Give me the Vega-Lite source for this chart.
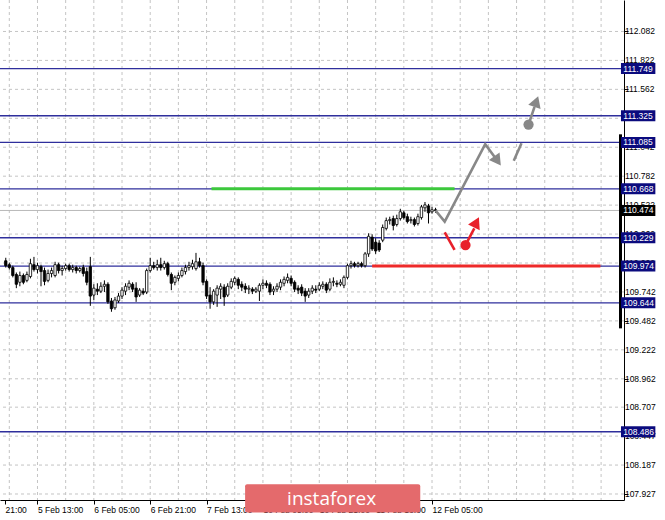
{
  "$schema": "https://vega.github.io/schema/vega-lite/v6.json",
  "width": 624,
  "height": 500,
  "autosize": "none",
  "padding": {"left": 0, "top": 0, "right": 41, "bottom": 20},
  "background": "#ffffff",
  "config": {
    "view": {"stroke": null},
    "font": "Liberation Sans",
    "axis": {"labelFont": "Liberation Sans", "labelFontSize": 8.5, "labelColor": "#000000", "tickColor": "#000000", "domainColor": "#000000", "grid": false, "titleOpacity": 0, "labelOverlap": false}
  },
  "resolve": {"scale": {"color": "independent"}},
  "datasets": {
    "candles": [
      {"t":-9,"o":110.022,"h":110.049,"l":109.961,"c":109.978},
      {"t":-8,"o":109.987,"h":110.005,"l":109.943,"c":109.961},
      {"t":-7,"o":109.961,"h":109.978,"l":109.873,"c":109.890},
      {"t":-6,"o":109.899,"h":109.917,"l":109.776,"c":109.811},
      {"t":-5,"o":109.829,"h":109.925,"l":109.793,"c":109.890},
      {"t":-4,"o":109.890,"h":109.908,"l":109.811,"c":109.829},
      {"t":-3,"o":109.846,"h":109.925,"l":109.829,"c":109.899},
      {"t":-2,"o":109.881,"h":110.040,"l":109.864,"c":109.996},
      {"t":-1,"o":109.987,"h":110.057,"l":109.925,"c":109.943},
      {"t":0,"o":109.943,"h":110.005,"l":109.908,"c":109.978},
      {"t":1,"o":109.969,"h":109.987,"l":109.793,"c":109.925},
      {"t":2,"o":109.934,"h":109.961,"l":109.802,"c":109.837},
      {"t":3,"o":109.846,"h":109.943,"l":109.829,"c":109.908},
      {"t":4,"o":109.908,"h":109.961,"l":109.873,"c":109.934},
      {"t":5,"o":109.890,"h":110.013,"l":109.873,"c":109.987},
      {"t":6,"o":109.987,"h":110.005,"l":109.908,"c":109.934},
      {"t":7,"o":109.934,"h":109.978,"l":109.890,"c":109.952},
      {"t":8,"o":109.952,"h":109.996,"l":109.934,"c":109.978},
      {"t":9,"o":109.978,"h":109.996,"l":109.925,"c":109.943},
      {"t":10,"o":109.943,"h":109.987,"l":109.917,"c":109.961},
      {"t":11,"o":109.961,"h":109.978,"l":109.908,"c":109.934},
      {"t":12,"o":109.934,"h":109.969,"l":109.917,"c":109.952},
      {"t":13,"o":109.961,"h":109.987,"l":109.881,"c":109.908},
      {"t":14,"o":109.925,"h":109.961,"l":109.802,"c":109.829},
      {"t":15,"o":109.969,"h":110.057,"l":109.617,"c":109.705},
      {"t":16,"o":109.714,"h":109.811,"l":109.670,"c":109.776},
      {"t":17,"o":109.767,"h":109.820,"l":109.714,"c":109.749},
      {"t":18,"o":109.749,"h":109.829,"l":109.732,"c":109.793},
      {"t":19,"o":109.793,"h":109.846,"l":109.741,"c":109.811},
      {"t":20,"o":109.811,"h":109.829,"l":109.635,"c":109.653},
      {"t":21,"o":109.661,"h":109.688,"l":109.564,"c":109.591},
      {"t":22,"o":109.600,"h":109.697,"l":109.582,"c":109.670},
      {"t":23,"o":109.661,"h":109.732,"l":109.644,"c":109.705},
      {"t":24,"o":109.705,"h":109.785,"l":109.679,"c":109.758},
      {"t":25,"o":109.749,"h":109.820,"l":109.714,"c":109.793},
      {"t":26,"o":109.785,"h":109.846,"l":109.758,"c":109.820},
      {"t":27,"o":109.811,"h":109.829,"l":109.741,"c":109.767},
      {"t":28,"o":109.776,"h":109.829,"l":109.653,"c":109.697},
      {"t":29,"o":109.714,"h":109.776,"l":109.697,"c":109.758},
      {"t":30,"o":109.749,"h":109.776,"l":109.714,"c":109.732},
      {"t":31,"o":109.741,"h":109.952,"l":109.723,"c":109.934},
      {"t":32,"o":109.934,"h":110.049,"l":109.917,"c":109.978},
      {"t":33,"o":109.978,"h":110.013,"l":109.943,"c":109.961},
      {"t":34,"o":109.961,"h":110.031,"l":109.934,"c":109.987},
      {"t":35,"o":109.987,"h":110.049,"l":109.934,"c":109.961},
      {"t":36,"o":109.961,"h":110.022,"l":109.943,"c":109.996},
      {"t":37,"o":109.996,"h":110.013,"l":109.881,"c":109.899},
      {"t":38,"o":109.899,"h":109.917,"l":109.758,"c":109.820},
      {"t":39,"o":109.829,"h":109.890,"l":109.802,"c":109.873},
      {"t":40,"o":109.864,"h":109.917,"l":109.837,"c":109.890},
      {"t":41,"o":109.890,"h":109.961,"l":109.873,"c":109.934},
      {"t":42,"o":109.925,"h":109.987,"l":109.899,"c":109.961},
      {"t":43,"o":109.961,"h":110.013,"l":109.934,"c":109.978},
      {"t":44,"o":109.969,"h":110.031,"l":109.943,"c":109.996},
      {"t":45,"o":109.952,"h":110.093,"l":109.934,"c":110.013},
      {"t":46,"o":110.013,"h":110.049,"l":109.961,"c":109.978},
      {"t":47,"o":109.978,"h":110.005,"l":109.802,"c":109.829},
      {"t":48,"o":109.837,"h":109.855,"l":109.679,"c":109.705},
      {"t":49,"o":109.714,"h":109.785,"l":109.591,"c":109.653},
      {"t":50,"o":109.653,"h":109.767,"l":109.626,"c":109.749},
      {"t":51,"o":109.714,"h":109.802,"l":109.608,"c":109.776},
      {"t":52,"o":109.767,"h":109.820,"l":109.679,"c":109.793},
      {"t":53,"o":109.785,"h":109.811,"l":109.617,"c":109.697},
      {"t":54,"o":109.714,"h":109.820,"l":109.697,"c":109.793},
      {"t":55,"o":109.785,"h":109.864,"l":109.767,"c":109.837},
      {"t":56,"o":109.829,"h":109.881,"l":109.802,"c":109.864},
      {"t":57,"o":109.855,"h":109.873,"l":109.767,"c":109.802},
      {"t":58,"o":109.811,"h":109.837,"l":109.749,"c":109.785},
      {"t":59,"o":109.793,"h":109.820,"l":109.732,"c":109.767},
      {"t":60,"o":109.767,"h":109.802,"l":109.723,"c":109.776},
      {"t":61,"o":109.767,"h":109.785,"l":109.723,"c":109.749},
      {"t":62,"o":109.749,"h":109.785,"l":109.732,"c":109.767},
      {"t":63,"o":109.749,"h":109.820,"l":109.661,"c":109.802},
      {"t":64,"o":109.802,"h":109.855,"l":109.767,"c":109.820},
      {"t":65,"o":109.820,"h":109.846,"l":109.776,"c":109.802},
      {"t":66,"o":109.811,"h":109.829,"l":109.714,"c":109.741},
      {"t":67,"o":109.749,"h":109.793,"l":109.714,"c":109.767},
      {"t":68,"o":109.767,"h":109.820,"l":109.741,"c":109.793},
      {"t":69,"o":109.785,"h":109.855,"l":109.758,"c":109.829},
      {"t":70,"o":109.820,"h":109.881,"l":109.793,"c":109.855},
      {"t":71,"o":109.846,"h":109.908,"l":109.820,"c":109.873},
      {"t":72,"o":109.864,"h":109.890,"l":109.793,"c":109.820},
      {"t":73,"o":109.829,"h":109.846,"l":109.741,"c":109.767},
      {"t":74,"o":109.776,"h":109.802,"l":109.723,"c":109.758},
      {"t":75,"o":109.785,"h":109.811,"l":109.705,"c":109.732},
      {"t":76,"o":109.749,"h":109.776,"l":109.653,"c":109.705},
      {"t":77,"o":109.714,"h":109.776,"l":109.688,"c":109.749},
      {"t":78,"o":109.749,"h":109.802,"l":109.723,"c":109.776},
      {"t":79,"o":109.767,"h":109.802,"l":109.732,"c":109.758},
      {"t":80,"o":109.767,"h":109.829,"l":109.749,"c":109.802},
      {"t":81,"o":109.793,"h":109.837,"l":109.767,"c":109.811},
      {"t":82,"o":109.811,"h":109.829,"l":109.732,"c":109.758},
      {"t":83,"o":109.767,"h":109.864,"l":109.749,"c":109.829},
      {"t":84,"o":109.829,"h":109.873,"l":109.793,"c":109.837},
      {"t":85,"o":109.820,"h":109.846,"l":109.785,"c":109.811},
      {"t":86,"o":109.811,"h":109.855,"l":109.793,"c":109.829},
      {"t":87,"o":109.802,"h":109.890,"l":109.776,"c":109.873},
      {"t":88,"o":109.873,"h":109.996,"l":109.855,"c":109.978},
      {"t":89,"o":109.978,"h":110.022,"l":109.952,"c":109.996},
      {"t":90,"o":109.996,"h":110.013,"l":109.961,"c":109.978},
      {"t":91,"o":109.978,"h":110.013,"l":109.961,"c":109.996},
      {"t":92,"o":109.996,"h":110.013,"l":109.961,"c":109.978},
      {"t":93,"o":109.978,"h":110.101,"l":109.961,"c":110.084},
      {"t":94,"o":110.084,"h":110.269,"l":110.057,"c":110.242},
      {"t":95,"o":110.234,"h":110.260,"l":110.110,"c":110.128},
      {"t":96,"o":110.189,"h":110.225,"l":110.084,"c":110.110},
      {"t":97,"o":110.181,"h":110.207,"l":110.101,"c":110.119},
      {"t":98,"o":110.207,"h":110.348,"l":110.189,"c":110.321},
      {"t":99,"o":110.313,"h":110.410,"l":110.295,"c":110.383},
      {"t":100,"o":110.383,"h":110.418,"l":110.348,"c":110.392},
      {"t":101,"o":110.401,"h":110.427,"l":110.295,"c":110.339},
      {"t":102,"o":110.348,"h":110.436,"l":110.330,"c":110.401},
      {"t":103,"o":110.401,"h":110.489,"l":110.383,"c":110.462},
      {"t":104,"o":110.453,"h":110.471,"l":110.392,"c":110.410},
      {"t":105,"o":110.418,"h":110.445,"l":110.357,"c":110.374},
      {"t":106,"o":110.383,"h":110.418,"l":110.357,"c":110.392},
      {"t":107,"o":110.392,"h":110.410,"l":110.330,"c":110.348},
      {"t":108,"o":110.357,"h":110.445,"l":110.339,"c":110.418},
      {"t":109,"o":110.410,"h":110.524,"l":110.392,"c":110.506},
      {"t":110,"o":110.498,"h":110.550,"l":110.462,"c":110.524},
      {"t":111,"o":110.515,"h":110.533,"l":110.357,"c":110.453},
      {"t":112,"o":110.462,"h":110.506,"l":110.445,"c":110.480},
      {"t":113,"o":110.480,"h":110.498,"l":110.453,"c":110.474}
    ],
    "vgrid": [{"t":-8},{"t":0},{"t":8},{"t":16},{"t":24},{"t":32},{"t":40},{"t":48},{"t":56},{"t":64},{"t":72},{"t":80},{"t":88},{"t":96},{"t":104},{"t":112},{"t":120},{"t":128},{"t":136},{"t":144},{"t":152},{"t":160}],
    "hgrid": [{"p":112.082},{"p":111.822},{"p":111.562},{"p":111.302},{"p":111.042},{"p":110.782},{"p":110.522},{"p":110.262},{"p":110.002},{"p":109.742},{"p":109.482},{"p":109.222},{"p":108.962},{"p":108.707},{"p":108.447},{"p":108.187},{"p":107.927}],
    "levels": [{"p":111.749},{"p":111.325},{"p":111.085},{"p":110.668},{"p":110.229},{"p":109.974},{"p":109.644},{"p":108.486}],
    "bid": [{"p":110.474}],
    "zones": [
      {"kind":"green","t1":49.4,"t2":118.4,"p":110.668},
      {"kind":"red","t1":95.0,"t2":159.8,"p":109.974}
    ],
    "paths": [
      {"seg":"a","col":"gray","i":0,"t":113.0,"p":110.474},
      {"seg":"a","col":"gray","i":1,"t":115.6,"p":110.374},
      {"seg":"a","col":"gray","i":2,"t":127.1,"p":111.070},
      {"seg":"a","col":"gray","i":3,"t":130.2,"p":110.937},
      {"seg":"b","col":"gray","i":0,"t":135.2,"p":110.920},
      {"seg":"b","col":"gray","i":1,"t":137.4,"p":111.078},
      {"seg":"c","col":"gray","i":0,"t":139.4,"p":111.246},
      {"seg":"c","col":"gray","i":1,"t":141.1,"p":111.404},
      {"seg":"d","col":"red","i":0,"t":115.6,"p":110.277},
      {"seg":"d","col":"red","i":1,"t":118.4,"p":110.119},
      {"seg":"e","col":"red","i":0,"t":121.5,"p":110.163},
      {"seg":"e","col":"red","i":1,"t":124.0,"p":110.313}
    ],
    "dots": [
      {"col":"gray","t":139.4,"p":111.246},
      {"col":"red","t":121.5,"p":110.163}
    ],
    "heads": [
      {"col":"gray","t":130.6,"p":110.920,"dir":144.5},
      {"col":"gray","t":141.6,"p":111.452,"dir":19.5},
      {"col":"red","t":124.6,"p":110.368,"dir":26.6}
    ],
    "logo": [{"name":"instaforex"}]
  },
  "layer": [
    {
      "data": {"name": "vgrid"},
      "mark": {"type": "rule", "color": "#c4c4c4", "strokeDash": [3, 3], "strokeWidth": 1},
      "encoding": {
        "x": {"field": "t", "type": "quantitative", "scale": {"domain": [-9.22, 165.08], "nice": false, "zero": false},
          "axis": {"orient": "bottom", "values": [-9.2, 0, 16, 32, 48, 64, 80, 96, 112], "title": null, "tickSize": 4, "labelAlign": "left", "labelPadding": 1, "labelFlush": false, "labelOverlap": false, "labelBound": false, "domainWidth": 1,
            "labelExpr": "datum.value < -5 ? '21:00' : datum.value == 0 ? '5 Feb 13:00' : datum.value == 16 ? '6 Feb 05:00' : datum.value == 32 ? '6 Feb 21:00' : datum.value == 48 ? '7 Feb 13:00' : datum.value == 64 ? '10 Feb 05:00' : datum.value == 80 ? '10 Feb 21:00' : datum.value == 96 ? '11 Feb 13:00' : '12 Feb 05:00'"}}
      }
    },
    {
      "data": {"name": "hgrid"},
      "mark": {"type": "rule", "color": "#c4c4c4", "strokeDash": [3, 3], "strokeWidth": 1},
      "encoding": {
        "y": {"field": "p", "type": "quantitative", "scale": {"domain": [107.918, 112.3197], "nice": false, "zero": false},
          "axis": {"orient": "right", "values": [112.082, 111.822, 111.562, 111.302, 111.042, 110.782, 110.522, 110.262, 110.002, 109.742, 109.482, 109.222, 108.962, 108.707, 108.447, 108.187, 107.927], "labels": false, "title": null, "tickSize": 4, "domainWidth": 1}}
      }
    },
    {
      "data": {"name": "hgrid"},
      "mark": {"type": "text", "color": "#000000", "fontSize": 8.5, "font": "Liberation Sans", "align": "left", "baseline": "middle", "clip": false},
      "encoding": {
        "x": {"datum": 166.76, "type": "quantitative", "scale": {"domain": [-9.22, 165.08], "nice": false, "zero": false}},
        "y": {"field": "p", "type": "quantitative", "scale": {"domain": [107.918, 112.3197], "nice": false, "zero": false}},
        "text": {"field": "p", "type": "quantitative", "format": ".3f"}
      }
    },
    {
      "data": {"name": "bid"},
      "mark": {"type": "rule", "color": "#b8b8b8", "strokeWidth": 1},
      "encoding": {
        "y": {"field": "p", "type": "quantitative", "scale": {"domain": [107.918, 112.3197], "nice": false, "zero": false}}
      }
    },
    {
      "data": {"name": "levels"},
      "mark": {"type": "rule", "color": "#2f2f9c", "strokeWidth": 1.3},
      "encoding": {
        "y": {"field": "p", "type": "quantitative", "scale": {"domain": [107.918, 112.3197], "nice": false, "zero": false}}
      }
    },
    {
      "data": {"name": "candles"},
      "mark": {"type": "rule", "color": "#000000", "strokeWidth": 1},
      "encoding": {
        "x": {"field": "t", "type": "quantitative", "scale": {"domain": [-9.22, 165.08], "nice": false, "zero": false}},
        "y": {"field": "l", "type": "quantitative", "scale": {"domain": [107.918, 112.3197], "nice": false, "zero": false}},
        "y2": {"field": "h"}
      }
    },
    {
      "data": {"name": "candles"},
      "mark": {"type": "bar", "width": 2.4, "stroke": "#000000", "strokeWidth": 0.8},
      "encoding": {
        "x": {"field": "t", "type": "quantitative", "scale": {"domain": [-9.22, 165.08], "nice": false, "zero": false}},
        "y": {"field": "o", "type": "quantitative", "scale": {"domain": [107.918, 112.3197], "nice": false, "zero": false}},
        "y2": {"field": "c"},
        "fill": {"condition": {"test": "datum.c >= datum.o", "value": "#ffffff"}, "value": "#000000"}
      }
    },
    {
      "data": {"name": "zones"},
      "mark": {"type": "rule", "strokeWidth": 3},
      "encoding": {
        "x": {"field": "t1", "type": "quantitative", "scale": {"domain": [-9.22, 165.08], "nice": false, "zero": false}},
        "x2": {"field": "t2"},
        "y": {"field": "p", "type": "quantitative", "scale": {"domain": [107.918, 112.3197], "nice": false, "zero": false}},
        "color": {"field": "kind", "type": "nominal", "scale": {"domain": ["green", "red"], "range": ["#3cc83c", "#ee2a2a"]}, "legend": null}
      }
    },
    {
      "data": {"name": "paths"},
      "mark": {"type": "line", "strokeWidth": 2.6, "strokeCap": "butt"},
      "encoding": {
        "x": {"field": "t", "type": "quantitative", "scale": {"domain": [-9.22, 165.08], "nice": false, "zero": false}},
        "y": {"field": "p", "type": "quantitative", "scale": {"domain": [107.918, 112.3197], "nice": false, "zero": false}},
        "detail": {"field": "seg", "type": "nominal"},
        "order": {"field": "i", "type": "quantitative"},
        "color": {"field": "col", "type": "nominal", "scale": {"domain": ["gray", "red"], "range": ["#888888", "#e8202a"]}, "legend": null}
      }
    },
    {
      "data": {"name": "dots"},
      "mark": {"type": "point", "filled": true, "shape": "circle", "size": 105, "opacity": 1},
      "encoding": {
        "x": {"field": "t", "type": "quantitative", "scale": {"domain": [-9.22, 165.08], "nice": false, "zero": false}},
        "y": {"field": "p", "type": "quantitative", "scale": {"domain": [107.918, 112.3197], "nice": false, "zero": false}},
        "color": {"field": "col", "type": "nominal", "scale": {"domain": ["gray", "red"], "range": ["#888888", "#e8202a"]}, "legend": null}
      }
    },
    {
      "data": {"name": "heads"},
      "mark": {"type": "point", "filled": true, "shape": "triangle-up", "size": 170, "opacity": 1},
      "encoding": {
        "x": {"field": "t", "type": "quantitative", "scale": {"domain": [-9.22, 165.08], "nice": false, "zero": false}},
        "y": {"field": "p", "type": "quantitative", "scale": {"domain": [107.918, 112.3197], "nice": false, "zero": false}},
        "angle": {"field": "dir", "type": "quantitative", "scale": null},
        "color": {"field": "col", "type": "nominal", "scale": {"domain": ["gray", "red"], "range": ["#888888", "#e8202a"]}, "legend": null}
      }
    },
    {
      "data": {"values": [{"a": 1}]},
      "mark": {"type": "rule", "color": "#000000", "strokeWidth": 3, "clip": false},
      "encoding": {
        "x": {"datum": 165.5, "type": "quantitative", "scale": {"domain": [-9.22, 165.08], "nice": false, "zero": false}},
        "y": {"datum": 111.158, "type": "quantitative", "scale": {"domain": [107.918, 112.3197], "nice": false, "zero": false}},
        "y2": {"datum": 109.415}
      }
    },
    {
      "data": {"name": "levels"},
      "mark": {"type": "bar", "size": 11, "color": "#0b0b7e", "clip": false, "orient": "horizontal"},
      "encoding": {
        "x": {"datum": 165.64, "type": "quantitative", "scale": {"domain": [-9.22, 165.08], "nice": false, "zero": false}},
        "x2": {"datum": 175.4},
        "y": {"field": "p", "type": "quantitative", "scale": {"domain": [107.918, 112.3197], "nice": false, "zero": false}}
      }
    },
    {
      "data": {"name": "bid"},
      "mark": {"type": "bar", "size": 11, "color": "#000000", "clip": false, "orient": "horizontal"},
      "encoding": {
        "x": {"datum": 165.64, "type": "quantitative", "scale": {"domain": [-9.22, 165.08], "nice": false, "zero": false}},
        "x2": {"datum": 175.4},
        "y": {"field": "p", "type": "quantitative", "scale": {"domain": [107.918, 112.3197], "nice": false, "zero": false}}
      }
    },
    {
      "data": {"name": "levels"},
      "mark": {"type": "text", "color": "#ffffff", "fontSize": 8.5, "font": "Liberation Sans", "align": "left", "baseline": "middle", "clip": false},
      "encoding": {
        "x": {"datum": 166.3, "type": "quantitative", "scale": {"domain": [-9.22, 165.08], "nice": false, "zero": false}},
        "y": {"field": "p", "type": "quantitative", "scale": {"domain": [107.918, 112.3197], "nice": false, "zero": false}},
        "text": {"field": "p", "type": "quantitative", "format": ".3f"}
      }
    },
    {
      "data": {"name": "bid"},
      "mark": {"type": "text", "color": "#ffffff", "fontSize": 8.5, "font": "Liberation Sans", "align": "left", "baseline": "middle", "clip": false},
      "encoding": {
        "x": {"datum": 166.3, "type": "quantitative", "scale": {"domain": [-9.22, 165.08], "nice": false, "zero": false}},
        "y": {"field": "p", "type": "quantitative", "scale": {"domain": [107.918, 112.3197], "nice": false, "zero": false}},
        "text": {"field": "p", "type": "quantitative", "format": ".3f"}
      }
    },
    {
      "data": {"name": "logo"},
      "mark": {"type": "rect", "color": "#e46a6c", "cornerRadius": 2, "clip": false},
      "encoding": {
        "x": {"datum": 58.94, "type": "quantitative", "scale": {"domain": [-9.22, 165.08], "nice": false, "zero": false}},
        "x2": {"datum": 108.66},
        "y": {"datum": 108.015, "type": "quantitative", "scale": {"domain": [107.918, 112.3197], "nice": false, "zero": false}},
        "y2": {"datum": 107.76}
      }
    },
    {
      "data": {"name": "logo"},
      "mark": {"type": "text", "color": "#ffffff", "fontSize": 19, "font": "Open Sans", "align": "center", "baseline": "middle", "clip": false},
      "encoding": {
        "x": {"datum": 83.5, "type": "quantitative", "scale": {"domain": [-9.22, 165.08], "nice": false, "zero": false}},
        "y": {"datum": 107.885, "type": "quantitative", "scale": {"domain": [107.918, 112.3197], "nice": false, "zero": false}},
        "text": {"field": "name", "type": "nominal"}
      }
    }
  ]
}
